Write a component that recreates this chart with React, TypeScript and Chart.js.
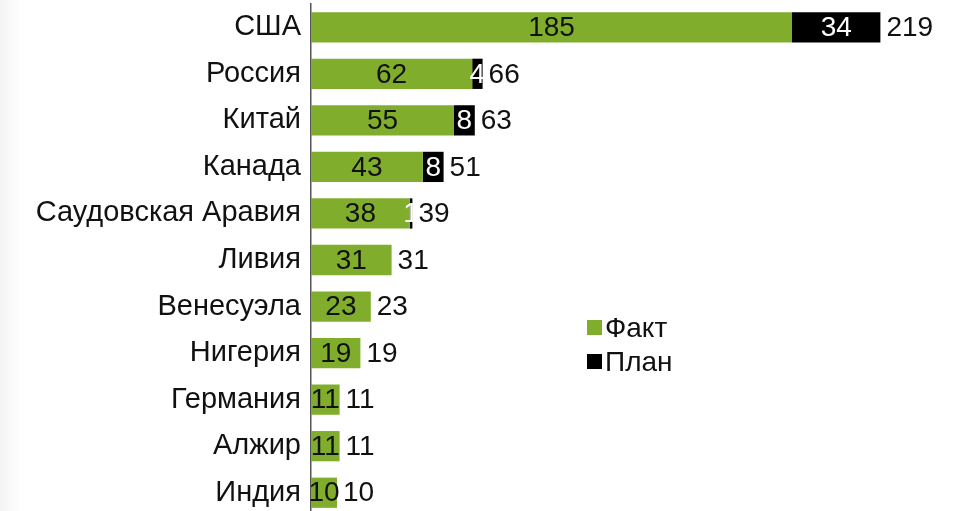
import React, { useEffect, useRef } from 'react';
import { Chart, registerables } from 'chart.js';

Chart.register(...registerables);

const categories = ['США', 'Россия', 'Китай', 'Канада', 'Саудовская Аравия', 'Ливия', 'Венесуэла', 'Нигерия', 'Германия', 'Алжир', 'Индия'];
const factValues = [185, 62, 55, 43, 38, 31, 23, 19, 11, 11, 10];
const planValues = [34, 4, 8, 8, 1, 0, 0, 0, 0, 0, 0];
const totalValues = [219, 66, 63, 51, 39, 31, 23, 19, 11, 11, 10];
const seriesNames = ['Факт', 'План'];
const seriesColors = ['#80AE2C', '#000000'];
const labelColors = ['#111111', '#ffffff'];

const FONT_FAMILY = "'Liberation Sans', Arial, sans-serif";
const FONT = `28px ${FONT_FAMILY}`;

const labelPlugin = {
  id: 'valueLabels',
  afterDatasetsDraw(chart: any) {
    const ctx = chart.ctx;
    ctx.save();
    ctx.font = FONT;
    ctx.textBaseline = 'middle';
    chart.data.datasets.forEach((ds: any, di: number) => {
      const meta = chart.getDatasetMeta(di);
      meta.data.forEach((el: any, i: number) => {
        const v = ds.data[i];
        if (!v) return;
        const p = el.getProps(['x', 'base', 'y'], true);
        ctx.fillStyle = labelColors[di];
        ctx.textAlign = 'center';
        ctx.fillText(String(v), (p.x + p.base) / 2, p.y + 1);
      });
    });
    const lastMeta = chart.getDatasetMeta(chart.data.datasets.length - 1);
    lastMeta.data.forEach((el: any, i: number) => {
      const p = el.getProps(['x', 'y'], true);
      ctx.fillStyle = '#111111';
      ctx.textAlign = 'left';
      ctx.fillText(String(totalValues[i]), p.x + 6, p.y + 1);
    });
    // legend
    const area = chart.chartArea;
    const lx = area.left + 276;
    const rows = [328, 362];
    seriesNames.forEach((name, i) => {
      const cy = rows[i];
      ctx.fillStyle = seriesColors[i];
      ctx.fillRect(lx, cy - 8, 15, 15);
      ctx.fillStyle = '#111111';
      ctx.textAlign = 'left';
      ctx.fillText(name, lx + 18, cy + 1);
    });
    ctx.restore();
  },
};

export default function App() {
  const ref = useRef<HTMLCanvasElement | null>(null);
  useEffect(() => {
    if (!ref.current) return;
    const chart = new Chart(ref.current, {
      type: 'bar',
      data: {
        labels: categories,
        datasets: [
          { label: seriesNames[0], data: factValues, backgroundColor: seriesColors[0], barPercentage: 0.65, categoryPercentage: 1 },
          { label: seriesNames[1], data: planValues, backgroundColor: seriesColors[1], barPercentage: 0.65, categoryPercentage: 1 },
        ],
      },
      options: {
        indexAxis: 'y',
        animation: false,
        responsive: true,
        maintainAspectRatio: false,
        layout: { padding: { top: 4, bottom: 4, right: 6, left: 0 } },
        plugins: { legend: { display: false }, tooltip: { enabled: false } },
        scales: {
          x: { stacked: true, min: 0, max: 250, display: false },
          y: {
            stacked: true,
            grid: { display: false, drawTicks: false },
            border: { display: true, color: '#555555', width: 1.5 },
            ticks: { color: '#111111', font: { size: 29, family: FONT_FAMILY }, padding: 10, autoSkip: false },
            afterFit: (s: any) => {
              s.width = 311;
              s.paddingTop = 0;
              s.paddingBottom = 0;
            },
          },
        },
      },
      plugins: [labelPlugin],
    });
    return () => chart.destroy();
  }, []);
  return (
    <div style={{ position: 'fixed', left: 0, top: 0, width: 967, height: 520, background: 'linear-gradient(to right, #f3f3f3 0px, #ffffff 20px)' }}>
      <canvas ref={ref} />
    </div>
  );
}
